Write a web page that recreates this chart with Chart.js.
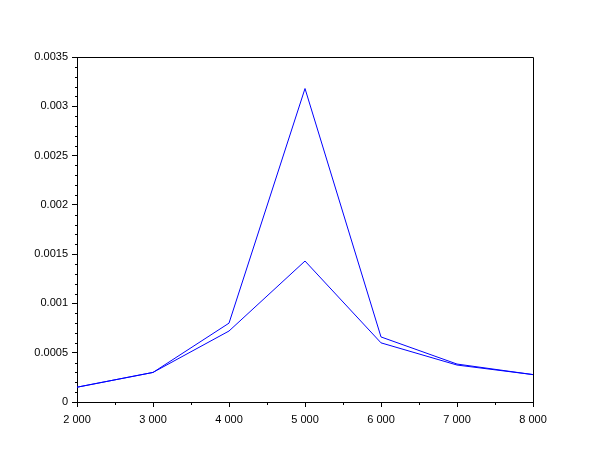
<!DOCTYPE html>
<html>
<head>
<meta charset="utf-8">
<script src="https://cdn.jsdelivr.net/npm/chart.js@4/dist/chart.umd.min.js"></script>
<style>
html,body{margin:0;padding:0;background:#fff;}
canvas{display:block;}
</style>
</head>
<body>
<canvas id="c" width="610" height="460"></canvas>
<script>
const xValues = [2000, 3000, 4000, 5000, 6000, 7000, 8000];
const upperSeries = [0.00015, 0.0003, 0.0008, 0.00318, 0.00066, 0.000385, 0.000278];
const lowerSeries = [0.00015, 0.0003, 0.00072, 0.00143, 0.0006, 0.000375, 0.000278];
const xMinorTicks = [2500, 3500, 4500, 5500, 6500, 7500];
const yMinorTicks = [0.0001,0.0002,0.0003,0.0004,0.0006,0.0007,0.0008,0.0009,0.0011,0.0012,0.0013,0.0014,0.0016,0.0017,0.0018,0.0019,0.0021,0.0022,0.0023,0.0024,0.0026,0.0027,0.0028,0.0029,0.0031,0.0032,0.0033,0.0034];

function pts(ys){ return xValues.map((x,i)=>({x:x,y:ys[i]})); }

const boxPlugin = {
  id:'box',
  afterDraw(chart){
    const ctx = chart.ctx, a = chart.chartArea;
    const xs = chart.scales.x, ys = chart.scales.y;
    ctx.save();
    ctx.strokeStyle = '#000';
    ctx.lineWidth = 1;
    ctx.beginPath();
    ctx.moveTo(Math.round(a.left)+0.5, Math.round(a.top)+0.5);
    ctx.lineTo(Math.round(a.right)+0.5, Math.round(a.top)+0.5);
    ctx.lineTo(Math.round(a.right)+0.5, Math.round(a.bottom)+0.5);
    ctx.stroke();
    ctx.beginPath();
    xMinorTicks.forEach(v=>{
      const px = Math.round(xs.getPixelForValue(v))+0.5;
      ctx.moveTo(px, Math.round(a.bottom));
      ctx.lineTo(px, Math.round(a.bottom)+3);
    });
    yMinorTicks.forEach(v=>{
      const py = Math.round(ys.getPixelForValue(v))+0.5;
      ctx.moveTo(Math.round(a.left)-2, py);
      ctx.lineTo(Math.round(a.left)+1, py);
    });
    ctx.stroke();
    ctx.restore();
  }
};

new Chart(document.getElementById('c'), {
  type:'line',
  data:{
    datasets:[
      {data:pts(upperSeries), borderColor:'#0000ff', borderWidth:1, pointRadius:0, tension:0, fill:false},
      {data:pts(lowerSeries), borderColor:'#0000ff', borderWidth:1, pointRadius:0, tension:0, fill:false}
    ]
  },
  options:{
    responsive:false,
    animation:false,
    layout:{padding:{top:57, right:77, left:0, bottom:0}},
    plugins:{legend:{display:false}, tooltip:{enabled:false}},
    scales:{
      x:{
        type:'linear', min:2000, max:8000,
        afterFit(s){ s.height = 58; },
        grid:{display:true, drawOnChartArea:false, tickLength:5, color:'#000'},
        border:{display:true, color:'#000', width:1},
        ticks:{stepSize:1000, padding:6, color:'#000', maxRotation:0, font:{family:'Liberation Sans, Arial, sans-serif', size:11},
          callback:(v)=>String(v).replace(/\B(?=(\d{3})+(?!\d))/g,' ')}
      },
      y:{
        type:'linear', min:0, max:0.0035,
        afterFit(s){ s.width = 77; },
        grid:{display:true, drawOnChartArea:false, tickLength:5, color:'#000'},
        border:{display:true, color:'#000', width:1},
        ticks:{stepSize:0.0005, padding:4, color:'#000', font:{family:'Liberation Sans, Arial, sans-serif', size:11},
          callback:(v)=>String(Number(v.toFixed(4)))}
      }
    }
  },
  plugins:[boxPlugin]
});
</script>
</body>
</html>
